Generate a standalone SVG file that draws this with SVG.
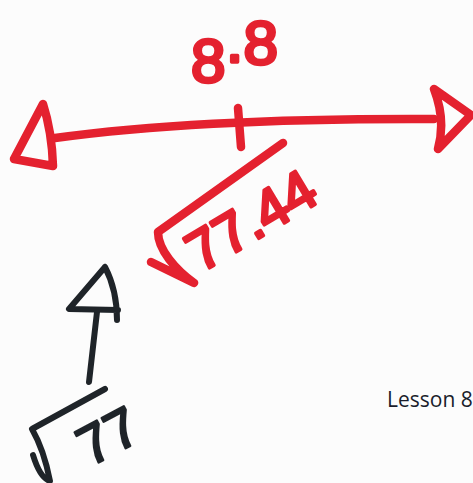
<svg xmlns="http://www.w3.org/2000/svg" width="473" height="483" viewBox="0 0 473 483">
  <style>
    .red { fill: none; stroke: #e4212f; stroke-width: 8.5; stroke-linecap: round; stroke-linejoin: round; }
    .blk { fill: none; stroke: #1f2429; stroke-width: 6; stroke-linecap: round; stroke-linejoin: round; }
    .redtxt { font-family: "Liberation Sans", Arial, sans-serif; fill: #e4212f; stroke: #e4212f; stroke-width: 3.5; stroke-linejoin: round; }
    .blktxt { font-family: "Liberation Sans", Arial, sans-serif; fill: #1f2429; stroke: #1f2429; stroke-width: 2.5; stroke-linejoin: round; }
  </style>
  <rect width="473" height="483" fill="#fcfcfc"/>

  <g id="number-line">
    <path class="red" d="M55,138 Q200,118 434,119"/>
    <path class="red" d="M43,104 Q52,132 53,166 L14,159 Z"/>
    <path class="red" d="M434,89 L471,115 L438,149 Q446,120 434,89 Z"/>
    <path class="red" d="M238,108 L241,147"/>
  </g>

  <g id="label-8-8">
    <text class="redtxt" font-size="62" x="191" y="82">8</text>
    <text class="redtxt" font-size="62" x="226" y="62">.</text>
    <text class="redtxt" font-size="62" x="243.5" y="64">8</text>
  </g>

  <g id="label-sqrt-77-44">
    <path class="red" d="M151,262 L194,283 C176,270 158,250 158,232 L283,143"/>
    <text class="redtxt" font-size="56" transform="translate(201,273) rotate(-31)">77.44</text>
  </g>

  <g id="arrow-up">
    <path class="blk" d="M89,382 L97,312"/>
    <path class="blk" d="M105,267 L69,309 L118,310 M105,267 Q117,290 117,320"/>
  </g>

  <g id="label-sqrt-77">
    <path class="blk" d="M33,455 Q40,478 50,481 Q44,450 32,429 L105,389"/>
    <text class="blktxt" font-size="55" transform="translate(90,467) rotate(-28)">77</text>
  </g>

  <g id="footer">
    <text x="387" y="407" font-family="'Open Sans', 'Liberation Sans', sans-serif" font-size="21" fill="#1a1d2b">Lesson 8</text>
  </g>
</svg>
